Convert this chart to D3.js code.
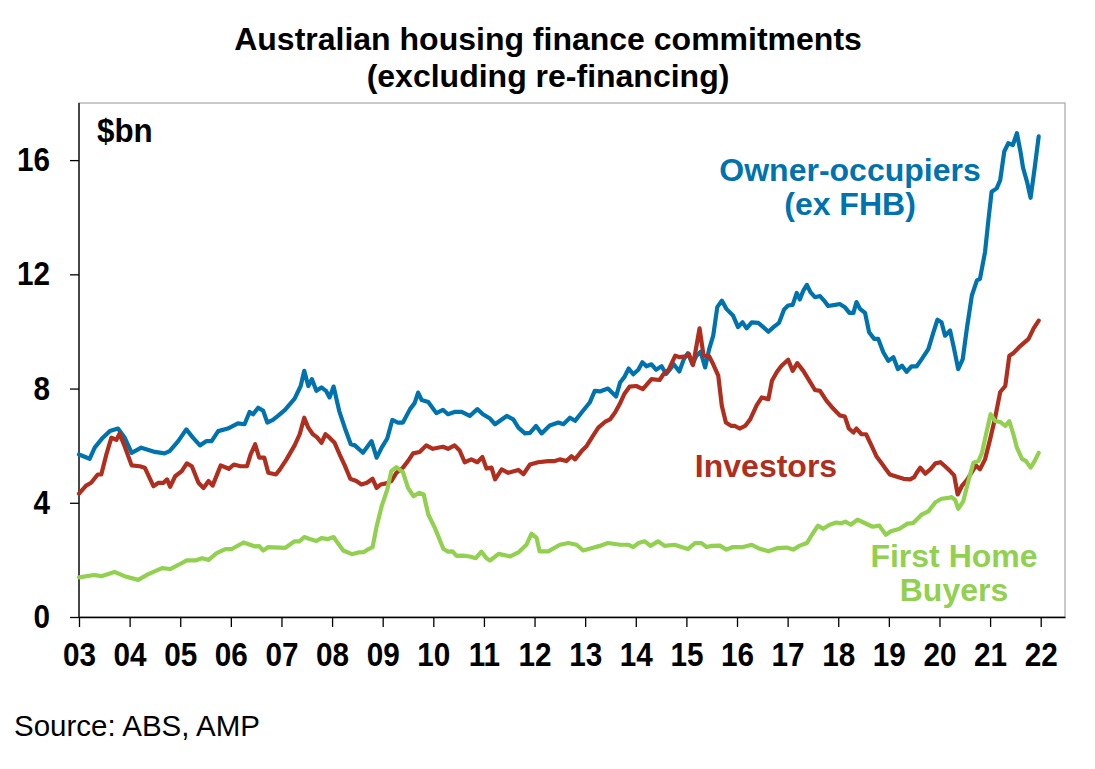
<!DOCTYPE html>
<html>
<head>
  <meta charset="utf-8">
  <style>
    body {
      margin: 0;
      background: white;
    }
    svg text {
      font-family: "Liberation Sans", Arial, sans-serif;
    }
    .axis path, .axis line {
      stroke: black;
      stroke-width: 1.3;
    }
    .axis text {
      font-size: 33px;
      font-weight: bold;
      fill: black;
    }
  </style>
</head>
<body>
  <script src="https://d3js.org/d3.v7.min.js"></script>
  <script>
    var width = 1095, height = 769;

    // [decimal year, $bn]
    var ownerOcc = [
      [2003.00, 5.69], [2003.21, 5.54], [2003.31, 5.93], [2003.47, 6.28], [2003.61, 6.51],
      [2003.77, 6.60], [2003.90, 6.29], [2004.04, 5.75], [2004.23, 5.93], [2004.50, 5.78],
      [2004.69, 5.73], [2004.79, 5.81], [2004.96, 6.16], [2005.12, 6.57], [2005.25, 6.28],
      [2005.39, 6.01], [2005.52, 6.16], [2005.62, 6.16], [2005.75, 6.51], [2005.94, 6.60],
      [2006.14, 6.78], [2006.27, 6.75], [2006.37, 7.18], [2006.44, 7.10], [2006.54, 7.33],
      [2006.64, 7.22], [2006.72, 6.81], [2006.83, 6.90], [2006.93, 7.04], [2007.07, 7.25],
      [2007.26, 7.65], [2007.38, 8.09], [2007.45, 8.62], [2007.53, 8.09], [2007.60, 8.33],
      [2007.69, 7.92], [2007.79, 8.04], [2007.88, 7.92], [2007.95, 7.69], [2008.03, 8.07],
      [2008.14, 7.22], [2008.25, 6.63], [2008.37, 6.05], [2008.45, 6.01], [2008.61, 5.75],
      [2008.78, 6.16], [2008.88, 5.58], [2008.98, 5.93], [2009.09, 6.25], [2009.19, 6.90],
      [2009.30, 6.81], [2009.40, 6.81], [2009.54, 7.28], [2009.63, 7.49], [2009.70, 7.86],
      [2009.77, 7.60], [2009.90, 7.53], [2010.06, 7.14], [2010.19, 7.25], [2010.29, 7.10],
      [2010.42, 7.18], [2010.56, 7.18], [2010.72, 7.04], [2010.87, 7.28], [2010.98, 7.10],
      [2011.12, 6.95], [2011.22, 6.75], [2011.45, 7.04], [2011.58, 6.92], [2011.68, 6.63],
      [2011.81, 6.43], [2011.91, 6.45], [2012.03, 6.69], [2012.14, 6.43], [2012.30, 6.71],
      [2012.47, 6.81], [2012.57, 6.75], [2012.70, 6.98], [2012.80, 6.87], [2012.93, 7.16],
      [2013.09, 7.51], [2013.19, 7.92], [2013.29, 7.90], [2013.45, 8.00], [2013.61, 7.72],
      [2013.69, 8.21], [2013.77, 8.39], [2013.86, 8.70], [2013.95, 8.50], [2014.05, 8.66],
      [2014.13, 8.92], [2014.21, 8.78], [2014.31, 8.85], [2014.40, 8.66], [2014.51, 8.78],
      [2014.60, 8.51], [2014.67, 8.66], [2014.75, 8.85], [2014.86, 8.60], [2014.95, 9.03],
      [2015.03, 9.24], [2015.12, 8.85], [2015.20, 9.15], [2015.28, 9.29], [2015.37, 8.74],
      [2015.45, 9.38], [2015.53, 9.85], [2015.61, 10.85], [2015.70, 11.08], [2015.79, 10.79],
      [2015.92, 10.56], [2016.02, 10.15], [2016.11, 10.32], [2016.19, 10.11], [2016.29, 10.32],
      [2016.42, 10.30], [2016.52, 10.15], [2016.62, 9.99], [2016.72, 10.15], [2016.83, 10.30],
      [2016.93, 10.77], [2017.01, 10.91], [2017.10, 10.93], [2017.18, 11.35], [2017.24, 11.12],
      [2017.31, 11.43], [2017.38, 11.63], [2017.45, 11.38], [2017.54, 11.20], [2017.64, 11.24],
      [2017.72, 11.08], [2017.80, 10.89], [2017.94, 10.93], [2018.03, 10.96], [2018.13, 10.85],
      [2018.22, 10.65], [2018.30, 10.65], [2018.36, 11.03], [2018.43, 10.79], [2018.53, 10.65],
      [2018.61, 9.97], [2018.71, 9.74], [2018.79, 9.74], [2018.89, 9.27], [2018.99, 8.97],
      [2019.09, 9.10], [2019.18, 8.68], [2019.26, 8.80], [2019.35, 8.59], [2019.45, 8.78],
      [2019.55, 8.78], [2019.65, 9.03], [2019.78, 9.38], [2019.88, 9.97], [2019.96, 10.41],
      [2020.04, 10.32], [2020.11, 9.85], [2020.21, 10.03], [2020.29, 9.38], [2020.37, 8.68],
      [2020.46, 9.03], [2020.54, 10.09], [2020.64, 11.26], [2020.74, 11.79], [2020.80, 11.84],
      [2020.90, 12.78], [2020.97, 13.95], [2021.03, 14.89], [2021.13, 15.01], [2021.20, 15.30],
      [2021.28, 16.30], [2021.36, 16.59], [2021.45, 16.53], [2021.53, 16.94], [2021.60, 16.30],
      [2021.65, 15.74], [2021.73, 15.24], [2021.80, 14.68], [2021.88, 15.71], [2021.96, 16.83]
    ];

    var investors = [
      [2003.00, 4.32], [2003.14, 4.60], [2003.24, 4.70], [2003.37, 4.99], [2003.44, 4.99],
      [2003.54, 5.69], [2003.64, 6.28], [2003.74, 6.20], [2003.80, 6.42], [2003.90, 5.99],
      [2004.04, 5.31], [2004.20, 5.28], [2004.30, 5.23], [2004.47, 4.58], [2004.57, 4.70],
      [2004.67, 4.70], [2004.74, 4.82], [2004.80, 4.56], [2004.90, 4.93], [2005.03, 5.11],
      [2005.13, 5.38], [2005.23, 5.28], [2005.36, 4.70], [2005.46, 4.52], [2005.56, 4.76],
      [2005.64, 4.60], [2005.80, 5.31], [2005.96, 5.19], [2006.06, 5.34], [2006.19, 5.28],
      [2006.32, 5.28], [2006.39, 5.69], [2006.48, 6.05], [2006.56, 5.58], [2006.66, 5.58],
      [2006.74, 5.05], [2006.89, 4.99], [2006.97, 5.17], [2007.10, 5.52], [2007.26, 6.01],
      [2007.36, 6.40], [2007.45, 6.98], [2007.53, 6.63], [2007.62, 6.40], [2007.70, 6.30],
      [2007.79, 6.10], [2007.87, 6.40], [2007.95, 6.28], [2008.05, 6.10], [2008.15, 5.69],
      [2008.25, 5.31], [2008.36, 4.84], [2008.48, 4.76], [2008.58, 4.64], [2008.69, 4.70],
      [2008.80, 4.84], [2008.88, 4.52], [2008.96, 4.64], [2009.07, 4.68], [2009.17, 4.76],
      [2009.27, 5.05], [2009.40, 5.23], [2009.50, 5.46], [2009.60, 5.73], [2009.73, 5.78],
      [2009.86, 6.01], [2009.99, 5.89], [2010.19, 5.96], [2010.29, 5.89], [2010.42, 6.01],
      [2010.52, 5.83], [2010.62, 5.42], [2010.75, 5.52], [2010.87, 5.42], [2010.97, 5.60],
      [2011.05, 5.20], [2011.15, 5.23], [2011.22, 4.82], [2011.35, 5.17], [2011.48, 5.05],
      [2011.68, 5.15], [2011.78, 5.00], [2011.91, 5.34], [2012.07, 5.42], [2012.27, 5.46],
      [2012.40, 5.46], [2012.50, 5.52], [2012.63, 5.46], [2012.73, 5.63], [2012.80, 5.52],
      [2012.93, 5.81], [2013.03, 5.99], [2013.16, 6.36], [2013.26, 6.63], [2013.39, 6.83],
      [2013.49, 6.92], [2013.59, 7.16], [2013.68, 7.45], [2013.77, 7.80], [2013.88, 8.07],
      [2014.01, 8.09], [2014.14, 7.98], [2014.25, 8.21], [2014.31, 8.33], [2014.47, 8.30],
      [2014.55, 8.51], [2014.65, 8.66], [2014.78, 9.15], [2014.87, 9.10], [2014.99, 9.13],
      [2015.05, 9.21], [2015.13, 8.82], [2015.20, 9.50], [2015.26, 10.11], [2015.34, 9.15],
      [2015.45, 9.13], [2015.53, 8.85], [2015.63, 8.45], [2015.70, 7.40], [2015.78, 6.81],
      [2015.89, 6.69], [2015.96, 6.69], [2016.05, 6.60], [2016.16, 6.69], [2016.26, 6.92],
      [2016.39, 7.42], [2016.49, 7.69], [2016.62, 7.63], [2016.69, 8.27], [2016.79, 8.59],
      [2016.88, 8.80], [2017.01, 9.01], [2017.10, 8.62], [2017.19, 8.89], [2017.31, 8.62],
      [2017.41, 8.33], [2017.54, 7.95], [2017.64, 7.92], [2017.77, 7.57], [2017.90, 7.30],
      [2018.03, 7.06], [2018.13, 7.02], [2018.21, 6.60], [2018.30, 6.46], [2018.36, 6.60],
      [2018.46, 6.40], [2018.55, 6.40], [2018.66, 5.99], [2018.76, 5.61], [2018.85, 5.40],
      [2018.92, 5.23], [2019.02, 4.99], [2019.16, 4.91], [2019.29, 4.84], [2019.42, 4.82],
      [2019.50, 4.90], [2019.55, 5.05], [2019.62, 5.23], [2019.72, 5.02], [2019.82, 5.17],
      [2019.92, 5.38], [2020.02, 5.42], [2020.11, 5.28], [2020.21, 5.11], [2020.29, 4.96],
      [2020.36, 4.29], [2020.44, 4.58], [2020.54, 4.79], [2020.64, 5.07], [2020.72, 5.31],
      [2020.80, 5.17], [2020.90, 5.52], [2021.00, 6.22], [2021.10, 6.98], [2021.20, 7.88],
      [2021.30, 8.09], [2021.38, 9.15], [2021.46, 9.24], [2021.59, 9.48], [2021.76, 9.74],
      [2021.86, 10.11], [2021.96, 10.38]
    ];

    var firstHome = [
      [2003.00, 1.39], [2003.30, 1.47], [2003.44, 1.43], [2003.70, 1.58], [2003.90, 1.43],
      [2004.17, 1.30], [2004.37, 1.50], [2004.64, 1.71], [2004.80, 1.68], [2004.97, 1.83],
      [2005.13, 1.98], [2005.30, 1.98], [2005.43, 2.06], [2005.56, 2.00], [2005.72, 2.24],
      [2005.89, 2.38], [2006.02, 2.38], [2006.25, 2.61], [2006.48, 2.47], [2006.56, 2.48],
      [2006.64, 2.33], [2006.74, 2.45], [2007.07, 2.42], [2007.26, 2.65], [2007.36, 2.65],
      [2007.45, 2.80], [2007.56, 2.73], [2007.69, 2.66], [2007.79, 2.76], [2007.92, 2.73],
      [2008.03, 2.80], [2008.12, 2.57], [2008.22, 2.33], [2008.39, 2.20], [2008.52, 2.26],
      [2008.62, 2.27], [2008.72, 2.38], [2008.80, 2.45], [2008.88, 3.17], [2008.98, 3.88],
      [2009.09, 4.46], [2009.17, 5.11], [2009.27, 5.25], [2009.40, 5.07], [2009.50, 4.52],
      [2009.61, 4.23], [2009.72, 4.35], [2009.81, 4.29], [2009.90, 3.59], [2010.03, 3.12],
      [2010.20, 2.38], [2010.29, 2.29], [2010.38, 2.30], [2010.46, 2.14], [2010.59, 2.15],
      [2010.72, 2.12], [2010.84, 2.06], [2010.95, 2.29], [2011.05, 2.06], [2011.12, 1.98],
      [2011.29, 2.21], [2011.52, 2.12], [2011.68, 2.26], [2011.84, 2.53], [2011.94, 2.92],
      [2012.04, 2.77], [2012.10, 2.30], [2012.27, 2.30], [2012.50, 2.53], [2012.67, 2.59],
      [2012.83, 2.53], [2012.96, 2.33], [2013.12, 2.41], [2013.29, 2.49], [2013.45, 2.59],
      [2013.69, 2.53], [2013.86, 2.53], [2013.95, 2.45], [2014.05, 2.59], [2014.18, 2.65],
      [2014.29, 2.49], [2014.44, 2.65], [2014.57, 2.49], [2014.77, 2.53], [2014.90, 2.45],
      [2015.03, 2.38], [2015.17, 2.59], [2015.30, 2.59], [2015.40, 2.45], [2015.50, 2.49],
      [2015.66, 2.50], [2015.79, 2.36], [2015.92, 2.45], [2016.12, 2.45], [2016.29, 2.53],
      [2016.42, 2.41], [2016.62, 2.30], [2016.79, 2.41], [2016.98, 2.43], [2017.11, 2.36],
      [2017.24, 2.50], [2017.38, 2.59], [2017.48, 2.88], [2017.60, 3.20], [2017.70, 3.09],
      [2017.83, 3.23], [2017.96, 3.31], [2018.06, 3.28], [2018.14, 3.34], [2018.25, 3.23],
      [2018.38, 3.41], [2018.51, 3.30], [2018.68, 3.16], [2018.81, 3.20], [2018.94, 2.88],
      [2019.04, 3.00], [2019.20, 3.08], [2019.37, 3.27], [2019.48, 3.29], [2019.65, 3.59],
      [2019.78, 3.70], [2019.92, 4.02], [2020.04, 4.14], [2020.18, 4.17], [2020.24, 4.20],
      [2020.31, 4.10], [2020.37, 3.79], [2020.47, 4.05], [2020.57, 4.76], [2020.67, 5.40],
      [2020.77, 5.46], [2020.84, 5.75], [2020.92, 6.40], [2021.01, 7.10], [2021.10, 6.86],
      [2021.20, 6.83], [2021.30, 6.69], [2021.38, 6.86], [2021.46, 6.40], [2021.53, 5.93],
      [2021.63, 5.54], [2021.71, 5.46], [2021.80, 5.23], [2021.88, 5.46], [2021.96, 5.75]
    ];

    var yearTicks = d3.range(2003, 2023);
    var valueTicks = [0, 4, 8, 12, 16];

    var margin = {left: 79, right: 30, top: 103, bottom: 152};

    var svg = d3.select("body").append("svg")
        .attr("width", width)
        .attr("height", height);

    var x = d3.scaleLinear()
        .domain([2003, 2022.48])
        .range([margin.left, width - margin.right]);

    var y = d3.scaleLinear()
        .domain([0, 18])
        .range([height - margin.bottom, margin.top]);

    // plot frame (grey top/right edges)
    svg.append("rect")
        .attr("x", x(2003))
        .attr("y", y(18))
        .attr("width", x(2022.48) - x(2003))
        .attr("height", y(0) - y(18))
        .attr("fill", "none")
        .attr("stroke", "#a6a6a6")
        .attr("stroke-width", 1.2);

    svg.append("g")
        .attr("class", "axis")
        .attr("transform", "translate(" + x(2003) + ",0)")
        .call(d3.axisLeft(y).tickValues(valueTicks).tickSize(9).tickSizeOuter(0).tickPadding(20))
        .call(g => g.select(".domain").attr("d", "M0," + y(18) + "V" + y(0)))
        .call(g => g.selectAll(".tick text")
          .attr("x", 0)
          .attr("transform", "translate(-29,0) scale(0.9,1)"));

    svg.append("g")
        .attr("class", "axis")
        .attr("transform", "translate(0," + y(0) + ")")
        .call(d3.axisBottom(x).tickValues(yearTicks).tickSize(10).tickSizeOuter(0).tickPadding(16)
          .tickFormat(d => String(d).slice(2)))
        .call(g => g.selectAll(".tick text").attr("transform", "scale(0.9,1)"));

    var line = d3.line()
        .x(d => x(d[0]))
        .y(d => y(d[1]))
        .curve(d3.curveLinear);

    var series = [
      {data: ownerOcc, color: "#0073ae"},
      {data: investors, color: "#b02e1e"},
      {data: firstHome, color: "#92d050"}
    ];

    svg.selectAll("path.series")
        .data(series)
      .enter().append("path")
        .attr("class", "series")
        .attr("d", d => line(d.data))
        .attr("fill", "none")
        .attr("stroke", d => d.color)
        .attr("stroke-width", 4.2)
        .attr("stroke-linejoin", "round")
        .attr("stroke-linecap", "round");

    // titles and labels
    var title = svg.append("g")
        .attr("font-size", 32)
        .attr("font-weight", "bold")
        .attr("text-anchor", "middle");
    title.append("text").attr("x", 548).attr("y", 49.5).text("Australian housing finance commitments");
    title.append("text").attr("x", 548).attr("y", 87).text("(excluding re-financing)");

    svg.append("text")
        .attr("transform", "translate(97,142) scale(0.95,1)")
        .attr("font-size", 33)
        .attr("font-weight", "bold")
        .text("$bn");

    var labels = [
      {text: "Owner-occupiers", x: 850, y: 181, color: "#0073ae"},
      {text: "(ex FHB)", x: 850, y: 215, color: "#0073ae"},
      {text: "Investors", x: 766, y: 477, color: "#b02e1e"},
      {text: "First Home", x: 954, y: 566.5, color: "#92d050"},
      {text: "Buyers", x: 954, y: 600.5, color: "#92d050"}
    ];

    svg.selectAll("text.label")
        .data(labels)
      .enter().append("text")
        .attr("class", "label")
        .attr("x", d => d.x)
        .attr("y", d => d.y)
        .attr("font-size", 32)
        .attr("font-weight", "bold")
        .attr("text-anchor", "middle")
        .attr("fill", d => d.color)
        .text(d => d.text);

    svg.append("text")
        .attr("x", 14).attr("y", 736)
        .attr("font-size", 29.5)
        .text("Source: ABS, AMP");
  </script>
</body>
</html>
